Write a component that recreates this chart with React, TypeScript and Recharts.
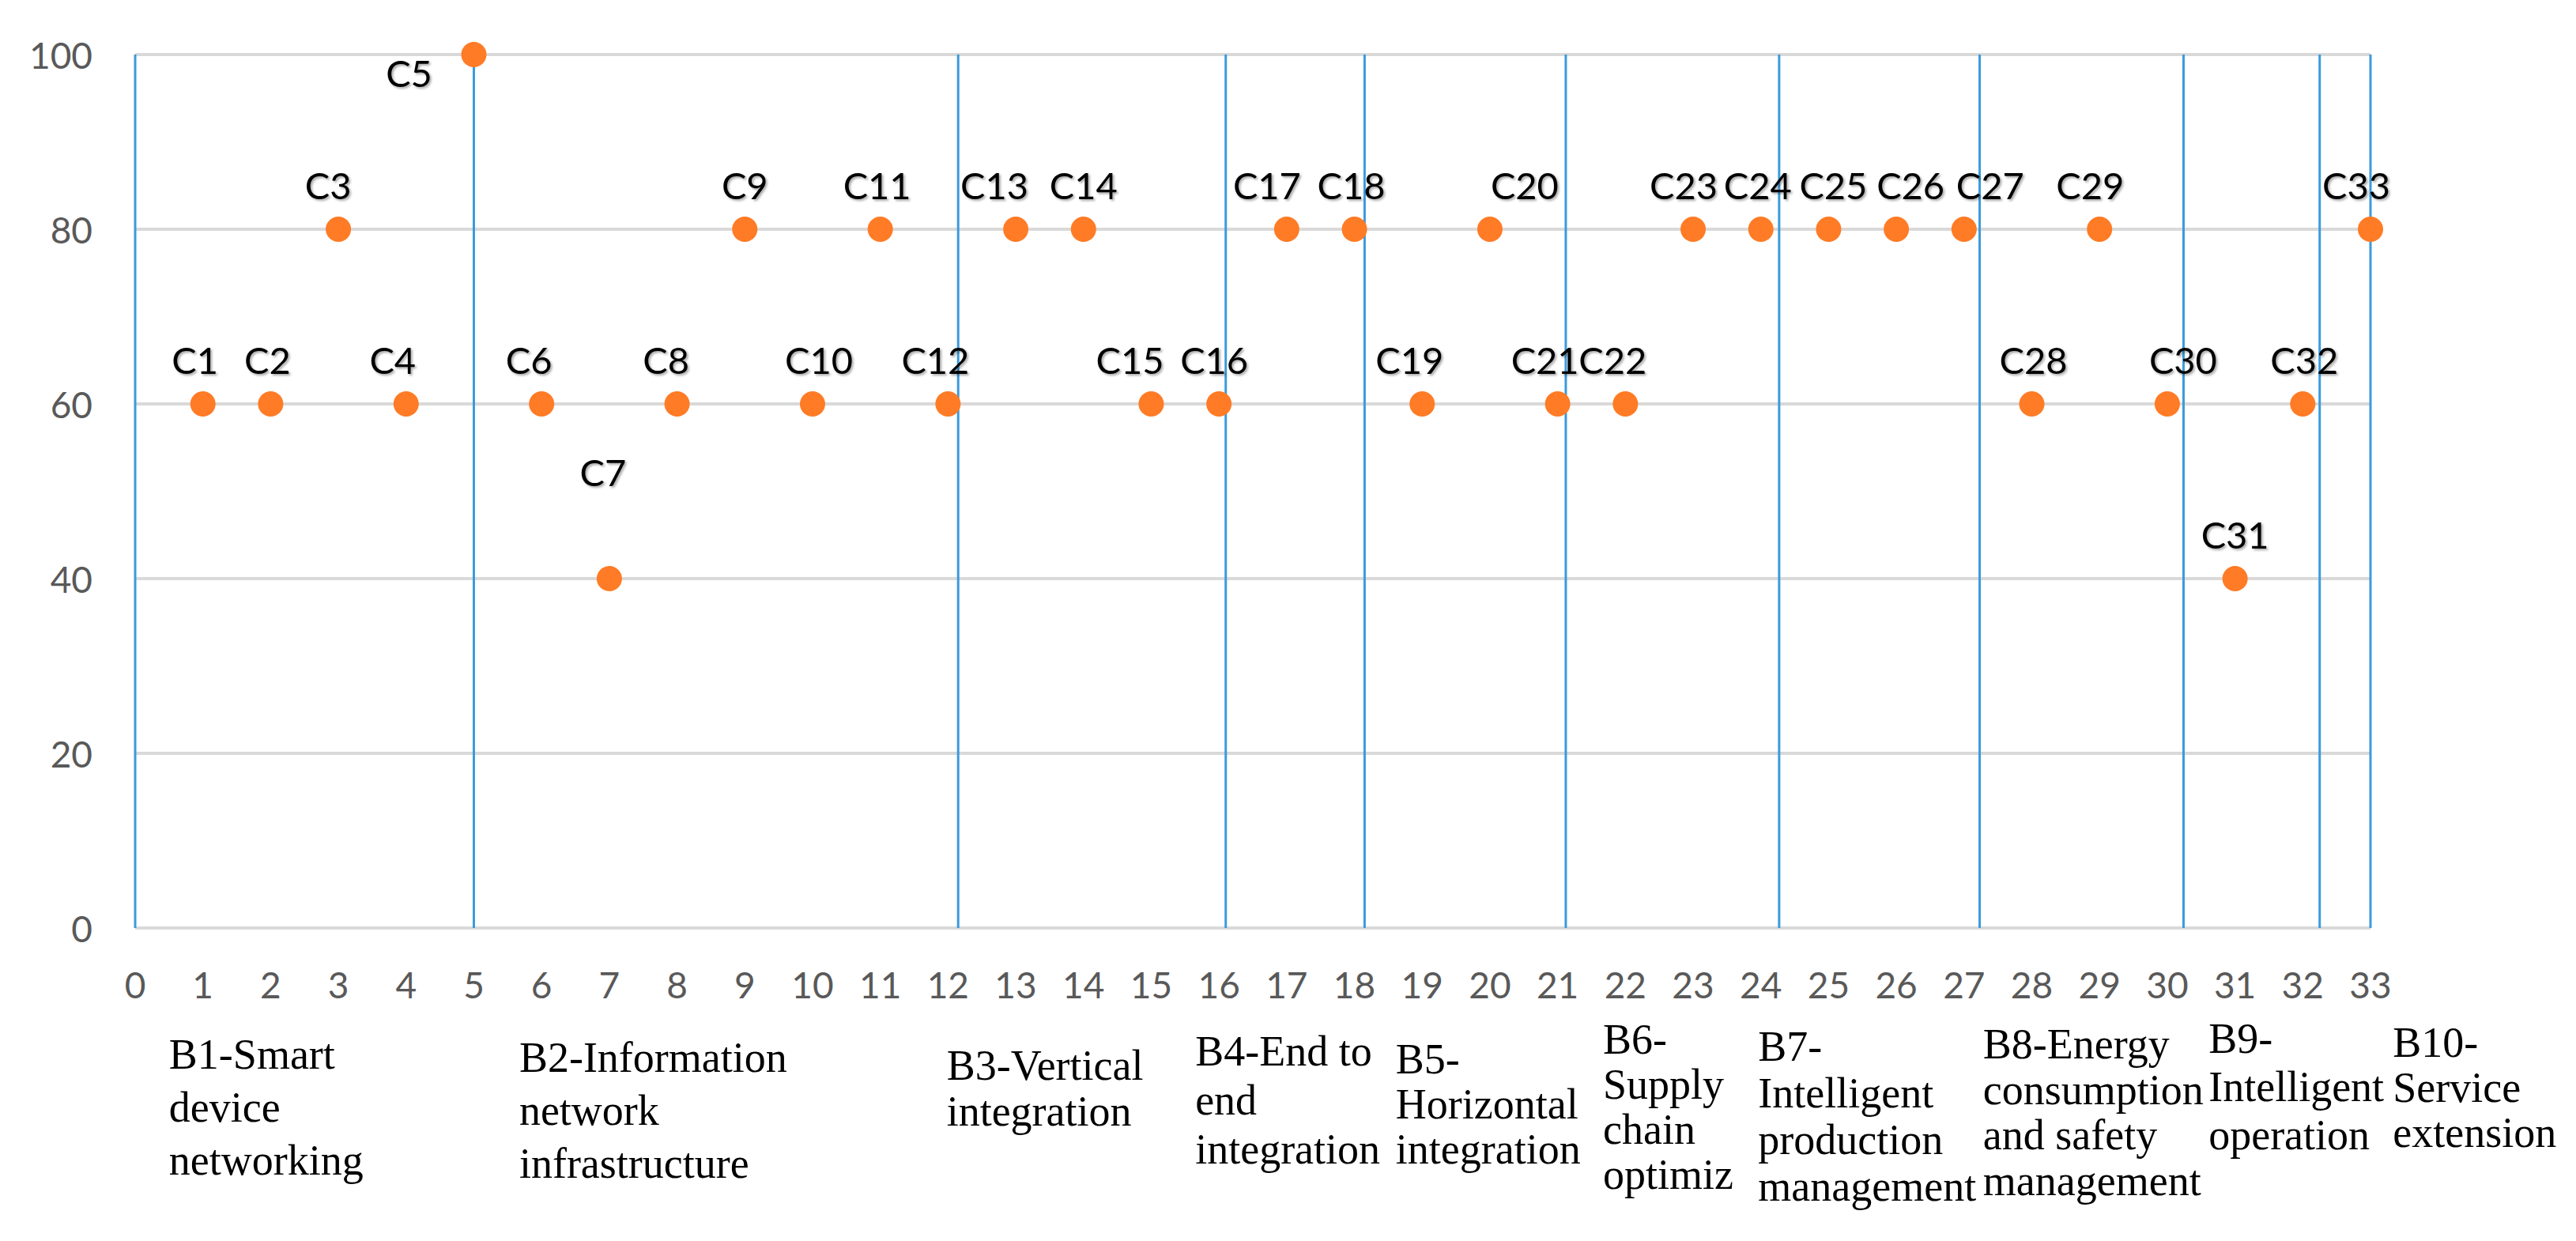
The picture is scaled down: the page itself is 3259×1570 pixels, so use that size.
import React from "react";
import { ScatterChart, Scatter, XAxis, YAxis, CartesianGrid, ReferenceLine, ReferenceDot } from "recharts";

// indicator codes and their scores
const codes = [
  "C1", "C2", "C3", "C4", "C5", "C6", "C7", "C8", "C9", "C10", "C11",
  "C12", "C13", "C14", "C15", "C16", "C17", "C18", "C19", "C20", "C21", "C22",
  "C23", "C24", "C25", "C26", "C27", "C28", "C29", "C30", "C31", "C32", "C33",
];
const positions = [
  1, 2, 3, 4, 5, 6, 7, 8, 9, 10, 11, 12, 13, 14, 15, 16, 17,
  18, 19, 20, 21, 22, 23, 24, 25, 26, 27, 28, 29, 30, 31, 32, 33,
];
const scores = [
  60, 60, 80, 60, 100, 60, 40, 60, 80, 60, 80, 60, 80, 80, 60, 60, 80,
  80, 60, 80, 60, 60, 80, 80, 80, 80, 80, 60, 80, 60, 40, 60, 80,
];

const xTicks = [
  0, 1, 2, 3, 4, 5, 6, 7, 8, 9, 10, 11, 12, 13, 14, 15, 16,
  17, 18, 19, 20, 21, 22, 23, 24, 25, 26, 27, 28, 29, 30, 31, 32, 33,
];
const yTicks = [0, 20, 40, 60, 80, 100];

// group (B) labels, one entry per line
const groupLabels = [
  ["B1-Smart", "device", "networking"],
  ["B2-Information", "network", "infrastructure"],
  ["B3-Vertical", "integration"],
  ["B4-End to", "end", "integration"],
  ["B5-", "Horizontal", "integration"],
  ["B6-", "Supply", "chain", "optimiz"],
  ["B7-", "Intelligent", "production", "management"],
  ["B8-Energy", "consumption", "and safety", "management"],
  ["B9-", "Intelligent", "operation"],
  ["B10-", "Service", "extension"],
];

// hand-drawn group dividers (x values)
const dividers = [0, 5, 12.15, 16.1, 18.15, 21.12, 24.27, 27.23, 30.24, 32.25, 33];

// ---- layout only ----
const groupAnchorX = [0.5, 5.67, 11.98, 15.65, 18.61, 21.67, 23.96, 27.28, 30.61, 33.33];
const groupFirstBaseline = [178, 182, 192, 174, 184, 159, 168, 165, 158, 163];
const groupLineGap = [67, 67, 58, 62, 57, 57, 59, 57.5, 61, 57];

const labelNudge: Record<string, { dx?: number; dy?: number }> = {
  C2: { dx: -4 }, C3: { dx: -13 }, C4: { dx: -17 }, C5: { dx: -82, dy: 41 },
  C6: { dx: -16 }, C7: { dx: -8, dy: -117 }, C8: { dx: -14 }, C9: { dx: 0 },
  C10: { dx: 8 }, C11: { dx: -4 }, C12: { dx: -16 }, C13: { dx: -27 },
  C14: { dx: 0 }, C15: { dx: -27 }, C16: { dx: -6 }, C17: { dx: -25 },
  C18: { dx: -4 }, C19: { dx: -16 }, C20: { dx: 44 }, C21: { dx: -16 },
  C22: { dx: -16 }, C23: { dx: -12 }, C24: { dx: -4 }, C25: { dx: 6 },
  C26: { dx: 18 }, C27: { dx: 33 }, C28: { dx: 2 }, C29: { dx: -12 },
  C30: { dx: 20 }, C31: { dx: 0 }, C32: { dx: 2 }, C33: { dx: -18 },
};

const ORANGE = "#FF7B25";
const BLUE = "#3A9BDC";
const GRID = "#D9D9D9";
const TICK = "#595959";

const points = codes.map((name, i) => ({ name, x: positions[i], y: scores[i] }));

const PointShape = (props: any) => {
  const { cx, cy, payload } = props;
  const n = labelNudge[payload.name] ?? {};
  const dx = n.dx ?? -10;
  const dy = n.dy ?? -38;
  return (
    <g>
      <circle cx={cx} cy={cy} r={16} fill={ORANGE} />
      <text
        x={cx + dx}
        y={cy + dy}
        textAnchor="middle"
        fontFamily="Lato"
        fontSize={47}
        fill="#000"
        style={{ filter: "drop-shadow(2px 2px 1.5px rgba(0,0,0,0.35))" }}
      >
        {payload.name}
      </text>
    </g>
  );
};

const XTick = ({ x, y, payload }: any) => (
  <text x={x} y={y + 89} textAnchor="middle" fontFamily="Lato" fontSize={46} fill={TICK}>
    {payload.value}
  </text>
);

const YTick = ({ x, y, payload }: any) => (
  <text x={x - 54} y={y} dominantBaseline="central" textAnchor="end" fontFamily="Lato" fontSize={46} fill={TICK}>
    {payload.value}
  </text>
);

const GroupLabel = ({ cx, cy, lines, first, gap }: any) => (
  <text fontFamily="Liberation Serif" fontSize={54} fill="#000">
    {lines.map((line: string, k: number) => (
      <tspan key={k} x={cx} y={cy + first + k * gap}>
        {line}
      </tspan>
    ))}
  </text>
);

export default function App() {
  return (
    <div style={{ width: 3243, height: 1554, background: "#fff" }}>
      <ScatterChart width={3243} height={1554} margin={{ top: 61, right: 252, bottom: 0, left: 0 }}>
        <CartesianGrid horizontal vertical={false} stroke={GRID} strokeWidth={4} />
        <XAxis
          dataKey="x"
          type="number"
          domain={[0, 33]}
          ticks={xTicks}
          interval={0}
          height={388}
          axisLine={false}
          tickLine={false}
          tickSize={0}
          tickMargin={0}
          tick={<XTick />}
        />
        <YAxis
          dataKey="y"
          type="number"
          domain={[0, 100]}
          ticks={yTicks}
          width={163}
          axisLine={false}
          tickLine={false}
          tickSize={0}
          tickMargin={0}
          tick={<YTick />}
        />
        {dividers.map((v) => (
          <ReferenceLine key={"d" + v} x={v} stroke={BLUE} strokeWidth={3} ifOverflow="visible" />
        ))}
        {groupLabels.map((lines, i) => (
          <ReferenceDot
            key={lines[0]}
            x={groupAnchorX[i]}
            y={0}
            r={0}
            ifOverflow="visible"
            shape={(p: any) => (
              <GroupLabel cx={p.cx} cy={p.cy} lines={lines} first={groupFirstBaseline[i]} gap={groupLineGap[i]} />
            )}
          />
        ))}
        <Scatter data={points} shape={<PointShape />} isAnimationActive={false} />
      </ScatterChart>
    </div>
  );
}
